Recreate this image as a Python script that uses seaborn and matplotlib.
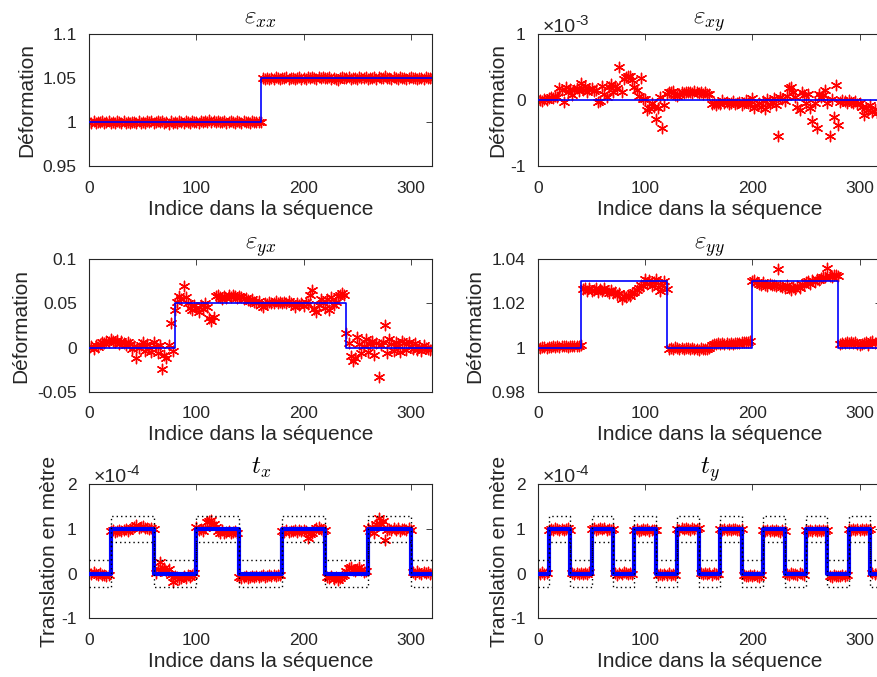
import numpy as np
import seaborn as sns
import matplotlib.pyplot as plt

# sample index of the red estimates (one point every 2 indices)
indices = np.arange(0, 321, 2)

# estimated deformations (red asterisks)
exx = [1.0000, 0.9991, 1.0008, 0.9993, 1.0004, 0.9996, 1.0010, 0.9990, 1.0002, 1.0009,
       0.9994, 1.0006, 0.9989, 1.0007, 1.0001, 0.9992, 1.0008, 0.9995, 1.0004, 0.9990,
       1.0006, 1.0000, 0.9992, 1.0011, 0.9994, 1.0004, 0.9990, 1.0007, 1.0001, 1.0009,
       0.9993, 1.0004, 1.0013, 0.9996, 1.0007, 0.9988, 1.0003, 0.9982, 1.0009, 0.9993,
       1.0004, 0.9991, 1.0011, 1.0000, 0.9994, 1.0014, 1.0003, 0.9995, 1.0009, 1.0001,
       1.0006, 0.9994, 1.0013, 1.0003, 1.0009, 0.9997, 1.0020, 1.0005, 1.0015, 1.0001,
       1.0009, 0.9996, 1.0006, 1.0013, 0.9993, 1.0003, 1.0011, 1.0000, 0.9991, 1.0008,
       1.0003, 0.9995, 1.0011, 1.0000, 1.0006, 0.9993, 1.0009, 1.0003, 0.9996, 1.0006,
       1.0001, 1.0506, 1.0491, 1.0508, 1.0496, 1.0503, 1.0489, 1.0511, 1.0500, 1.0494,
       1.0506, 1.0497, 1.0513, 1.0492, 1.0504, 1.0508, 1.0494, 1.0500, 1.0511, 1.0496,
       1.0504, 1.0491, 1.0509, 1.0500, 1.0516, 1.0506, 1.0494, 1.0511, 1.0503, 1.0519,
       1.0506, 1.0497, 1.0509, 1.0488, 1.0503, 1.0494, 1.0485, 1.0500, 1.0509, 1.0497,
       1.0503, 1.0513, 1.0494, 1.0506, 1.0500, 1.0488, 1.0509, 1.0497, 1.0503, 1.0511,
       1.0494, 1.0506, 1.0500, 1.0513, 1.0491, 1.0509, 1.0503, 1.0497, 1.0520, 1.0506,
       1.0500, 1.0488, 1.0509, 1.0503, 1.0494, 1.0511, 1.0500, 1.0506, 1.0491, 1.0503,
       1.0509, 1.0497, 1.0503, 1.0494, 1.0506, 1.0500, 1.0491, 1.0509, 1.0503, 1.0497,
       1.0500]

# exy in units of 1e-3
exy = [0.00, 0.01, -0.01, 0.02, 0.00, 0.04, 0.05, 0.03, 0.06, 0.05,
       0.18, 0.15, -0.03, 0.20, 0.12, 0.17, 0.08, 0.16, 0.19, 0.14,
       0.26, 0.15, 0.22, 0.12, 0.17, 0.18, 0.14, 0.16, -0.03, -0.02,
       0.22, 0.10, 0.05, 0.20, 0.25, 0.12, 0.22, 0.18, 0.50, 0.12,
       0.32, 0.35, 0.36, 0.37, 0.30, 0.20, 0.15, 0.06, 0.33, 0.02,
       0.02, -0.15, -0.12, -0.05, -0.10, -0.28, -0.12, 0.05, -0.42, -0.08,
       0.10, 0.13, 0.12, 0.14, 0.08, 0.07, 0.10, 0.12, 0.11, 0.13,
       0.12, 0.13, 0.11, 0.14, 0.12, 0.11, 0.13, 0.10, 0.12, 0.09,
       0.10, -0.06, -0.05, -0.07, -0.04, -0.06, 0.01, -0.05, -0.03, -0.06,
       -0.04, -0.02, -0.06, -0.05, -0.03, -0.07, -0.05, 0.01, -0.04, -0.06,
       0.03, -0.12, -0.08, -0.04, -0.10, -0.02, -0.13, 0.02, -0.06, -0.03,
       0.04, -0.08, -0.55, 0.05, 0.02, -0.02, 0.06, 0.18, 0.20, 0.12,
       0.05, -0.10, -0.15, 0.12, 0.08, -0.05, 0.10, -0.12, -0.32, -0.05,
       -0.42, 0.10, 0.05, 0.08, 0.15, -0.05, -0.55, 0.02, -0.25, 0.23,
       -0.38, -0.03, 0.01, -0.02, -0.04, 0.00, -0.03, -0.05, -0.02, -0.06,
       -0.05, -0.10, -0.22, -0.12, -0.15, -0.08, -0.18, -0.14, -0.20, -0.17,
       -0.18]

eyx = [0.000, 0.002, -0.002, 0.003, 0.001, 0.004, 0.006, 0.005, 0.007, 0.006,
       0.010, 0.008, 0.006, 0.009, 0.004, 0.007, 0.005, 0.003, 0.006, 0.004,
       -0.002, 0.002, -0.012, 0.000, 0.003, 0.006, -0.004, 0.004, 0.000, -0.005,
       0.006, 0.002, -0.006, 0.003, -0.024, -0.008, -0.012, 0.003, 0.028, -0.004,
       0.042, 0.052, 0.058, 0.055, 0.070, 0.057, 0.050, 0.045, 0.042, 0.048,
       0.045, 0.040, 0.048, 0.044, 0.050, 0.046, 0.033, 0.030, 0.035, 0.058,
       0.060, 0.057, 0.055, 0.058, 0.056, 0.059, 0.057, 0.060, 0.058, 0.056,
       0.058, 0.057, 0.055, 0.056, 0.054, 0.053, 0.055, 0.052, 0.050, 0.053,
       0.048, 0.046, 0.050, 0.049, 0.052, 0.051, 0.050, 0.053, 0.051, 0.052,
       0.050, 0.052, 0.051, 0.053, 0.050, 0.049, 0.046, 0.051, 0.048, 0.050,
       0.047, 0.052, 0.049, 0.060, 0.065, 0.044, 0.040, 0.048, 0.055, 0.050,
       0.045, 0.055, 0.043, 0.057, 0.048, 0.052, 0.058, 0.060, 0.062, 0.059,
       0.017, 0.005, -0.010, -0.015, -0.012, 0.012, 0.004, -0.006, 0.002, 0.010,
       -0.005, 0.004, 0.008, -0.008, 0.005, -0.033, 0.003, 0.006, 0.026, -0.006,
       0.010, 0.004, -0.004, 0.006, 0.002, -0.005, 0.008, 0.005, -0.003, 0.006,
       0.002, -0.002, 0.005, -0.003, 0.001, -0.004, 0.003, 0.000, -0.002, -0.003,
       -0.002]

eyy = [1.0000, 0.9998, 1.0003, 1.0001, 0.9999, 1.0004, 1.0002, 1.0005, 1.0003, 1.0006,
       1.0004, 1.0008, 1.0005, 1.0007, 1.0004, 1.0009, 1.0006, 1.0005, 1.0008, 1.0006,
       1.0010, 1.0265, 1.0272, 1.0258, 1.0268, 1.0255, 1.0262, 1.0270, 1.0250, 1.0265,
       1.0258, 1.0270, 1.0255, 1.0248, 1.0262, 1.0245, 1.0252, 1.0240, 1.0248, 1.0222,
       1.0235, 1.0228, 1.0240, 1.0232, 1.0245, 1.0252, 1.0262, 1.0270, 1.0282, 1.0278,
       1.0312, 1.0290, 1.0305, 1.0280, 1.0295, 1.0312, 1.0275, 1.0258, 1.0285, 1.0300,
       1.0265, 0.9995, 0.9998, 0.9992, 1.0002, 0.9996, 0.9994, 1.0000, 0.9993, 0.9997,
       0.9996, 0.9993, 0.9998, 0.9992, 0.9995, 0.9991, 0.9997, 0.9993, 0.9995, 0.9994,
       0.9996, 1.0012, 1.0018, 1.0014, 1.0020, 1.0016, 1.0019, 1.0015, 1.0021, 1.0017,
       1.0020, 1.0018, 1.0022, 1.0019, 1.0021, 1.0025, 1.0023, 1.0027, 1.0024, 1.0030,
       1.0300, 1.0305, 1.0295, 1.0290, 1.0282, 1.0295, 1.0285, 1.0280, 1.0287, 1.0282,
       1.0285, 1.0278, 1.0355, 1.0280, 1.0275, 1.0270, 1.0282, 1.0268, 1.0262, 1.0275,
       1.0265, 1.0280, 1.0270, 1.0290, 1.0285, 1.0295, 1.0300, 1.0290, 1.0305, 1.0298,
       1.0310, 1.0305, 1.0315, 1.0320, 1.0318, 1.0362, 1.0325, 1.0322, 1.0330, 1.0328,
       1.0325, 1.0018, 1.0022, 1.0020, 1.0025, 1.0019, 1.0023, 1.0021, 1.0024, 1.0018,
       1.0010, 1.0015, 1.0022, 1.0024, 1.0012, 1.0025, 1.0028, 1.0020, 1.0026, 1.0023,
       1.0025]

# translations in units of 1e-4 m
tx = [0.02, -0.01, 0.03, 0.00, -0.02, 0.01, -0.04, -0.02, -0.05, -0.03,
      0.95, 0.97, 0.94, 0.96, 0.98, 0.95, 0.97, 0.99, 0.96, 1.00,
      1.03, 1.05, 1.08, 1.02, 1.04, 1.06, 1.01, 1.03, 1.00, 1.02,
      1.00, 0.02, 0.10, 0.25, 0.08, 0.12, 0.05, 0.10, -0.02, -0.18,
      -0.05, -0.08, -0.12, -0.10, -0.06, -0.09, -0.04, -0.07, -0.02, 0.02,
      1.05, 0.98, 1.00, 0.95, 1.02, 1.15, 1.18, 1.20, 1.12, 1.05,
      0.95, 0.92, 0.97, 0.90, 0.94, 0.96, 0.91, 0.93, 0.95, 0.92,
      -0.07, -0.10, -0.08, -0.06, -0.09, -0.07, -0.05, -0.08, -0.06, -0.07,
      -0.05, -0.04, -0.07, -0.05, -0.03, -0.06, -0.04, -0.05, -0.02, -0.04,
      0.95, 0.93, 0.97, 0.94, 0.96, 0.95, 0.98, 0.94, 0.97, 0.96,
      0.98, 0.95, 0.80, 0.88, 0.92, 0.97, 1.02, 1.05, 1.00, 0.95,
      0.98, -0.08, -0.10, -0.05, -0.12, -0.08, -0.14, -0.10, -0.06, -0.03,
      0.05, 0.12, 0.15, 0.08, 0.05, 0.10, 0.14, 0.09, 0.04, 0.06,
      1.02, 0.95, 1.05, 0.90, 1.10, 1.25, 1.12, 1.18, 0.75, 0.98,
      1.00, 0.97, 1.02, 0.98, 1.01, 0.96, 0.99, 1.00, 0.97, 1.01,
      0.98, 0.03, 0.00, 0.05, 0.02, -0.01, 0.04, 0.01, 0.03, 0.00,
      0.02]

ty = [0.02, -0.01, 0.03, 0.00, 0.01, 0.98, 1.00, 0.97, 1.01, 0.99,
      0.98, 1.00, 0.97, 0.99, 1.01, 0.98, 0.02, -0.01, 0.01, 0.00,
      0.02, -0.01, 0.01, 0.00, 0.03, 0.99, 1.01, 0.98, 1.00, 1.02,
      0.99, 1.01, 0.98, 1.00, 0.97, 0.99, 0.01, -0.02, 0.02, 0.00,
      0.03, 0.01, -0.01, 0.02, 0.00, 0.97, 0.99, 0.96, 0.98, 1.00,
      0.97, 0.99, 0.96, 0.98, 0.97, 0.98, -0.02, 0.00, -0.03, -0.01,
      -0.02, 0.01, -0.03, -0.01, -0.02, 1.00, 0.98, 1.01, 0.99, 1.02,
      1.00, 0.98, 1.01, 0.99, 1.00, 1.01, 0.02, -0.01, 0.01, 0.00,
      0.02, -0.02, 0.01, -0.01, 0.00, 0.99, 0.97, 1.00, 0.98, 0.99,
      0.97, 0.99, 1.00, 0.98, 0.97, 0.99, -0.04, -0.06, -0.05, -0.03,
      -0.06, -0.04, -0.05, -0.07, -0.03, 0.97, 0.95, 0.98, 0.96, 0.97,
      0.95, 0.97, 0.96, 0.94, 0.97, 0.96, 0.00, -0.02, 0.01, -0.01,
      0.00, -0.02, 0.01, -0.01, -0.02, 0.97, 0.95, 0.98, 0.96, 0.97,
      0.95, 0.97, 0.96, 0.98, 0.95, 0.97, -0.05, -0.07, -0.04, -0.06,
      -0.05, -0.06, -0.03, -0.05, -0.04, 0.99, 0.97, 1.00, 0.98, 0.99,
      0.97, 0.99, 0.98, 1.00, 0.97, 0.99, 0.01, -0.01, 0.02, 0.00,
      0.01]

# true values (blue step functions): segment edges and levels
exx_edges, exx_levels = [0, 160, 320], [1.0, 1.05]
exy_edges, exy_levels = [0, 320], [0.0]
eyx_edges, eyx_levels = [0, 80, 240, 320], [0.0, 0.05, 0.0]
eyy_edges, eyy_levels = [0, 40, 120, 200, 280, 320], [1.0, 1.03, 1.0, 1.03, 1.0]
tx_edges = [0, 20, 60, 100, 140, 180, 220, 260, 300, 320]
tx_levels = [0, 1, 0, 1, 0, 1, 0, 1, 0]
ty_edges = [0, 10, 30, 50, 70, 90, 110, 130, 150, 170, 190, 210, 230, 250,
            270, 290, 310, 320]
ty_levels = [0, 1, 0, 1, 0, 1, 0, 1, 0, 1, 0, 1, 0, 1, 0, 1, 0]
t_margin = 0.3  # dotted tolerance band (1e-4 m)

titles = [r'$\varepsilon_{xx}$', r'$\varepsilon_{xy}$', r'$\varepsilon_{yx}$',
          r'$\varepsilon_{yy}$', r'$t_x$', r'$t_y$']
xticks = [0, 100, 200, 300]
yticks = [[0.95, 1, 1.05, 1.1], [-1, 0, 1], [-0.05, 0, 0.05, 0.1],
          [0.98, 1, 1.02, 1.04], [-1, 0, 1, 2], [-1, 0, 1, 2]]
yticklabels = [['0.95', '1', '1.05', '1.1'], ['-1', '0', '1'],
               ['-0.05', '0', '0.05', '0.1'], ['0.98', '1', '1.02', '1.04'],
               ['-1', '0', '1', '2'], ['-1', '0', '1', '2']]
multipliers = [None, '-3', None, None, '-4', '-4']

sns.set_style('white')
plt.rcParams['font.family'] = ['Liberation Sans', 'DejaVu Sans']
plt.rcParams['mathtext.fontset'] = 'cm'
ink = '#262626'

fig = plt.figure(figsize=(8.77, 6.77), dpi=100)
lefts = [0.1018, 0.6135]
bottoms = [0.7548, 0.4214, 0.0867]
heights = [0.1945, 0.1956, 0.198]
width = 0.391
ylabel_pads = [5, 2, 5, 5, 2, 1]


def steps(edges, levels, offset=0.0):
    y = [v + offset for v in levels]
    return edges, y + [y[-1]]


panels = [(exx, exx_edges, exx_levels), (exy, exy_edges, exy_levels),
          (eyx, eyx_edges, eyx_levels), (eyy, eyy_edges, eyy_levels),
          (tx, tx_edges, tx_levels), (ty, ty_edges, ty_levels)]

for i, (vals, edges, levels) in enumerate(panels):
    row, col = divmod(i, 2)
    ax = fig.add_axes([lefts[col], bottoms[row], width, heights[row]])
    sns.scatterplot(x=indices, y=vals, ax=ax, marker=(6, 2, 0), s=56,
                    color='red', linewidth=1.0, zorder=2)
    sx, sy = steps(edges, levels)
    lw = 3.0 if row == 2 else 1.2
    sns.lineplot(x=sx, y=sy, ax=ax, color='blue', lw=lw, drawstyle='steps-post',
                 estimator=None, sort=False, zorder=3)
    if row == 2:
        for off in (t_margin, -t_margin):
            bx, by = steps(edges, levels, off)
            sns.lineplot(x=bx, y=by, ax=ax, color='black', lw=1.0,
                         linestyle=(0, (1, 2.2)), drawstyle='steps-post',
                         estimator=None, sort=False, zorder=4)
    ax.set_xlim(0, 320)
    ax.set_ylim(yticks[i][0], yticks[i][-1])
    ax.set_xticks(xticks)
    ax.set_xticklabels([str(t) for t in xticks])
    ax.set_yticks(yticks[i])
    ax.set_yticklabels(yticklabels[i])
    ax.tick_params(axis='both', which='both', direction='in', top=True,
                   right=True, length=4, width=0.6, color=ink, labelsize=12.5,
                   labelcolor=ink)
    ax.tick_params(axis='x', pad=10.5)
    ax.tick_params(axis='y', pad=9)
    for sp in ax.spines.values():
        sp.set_color(ink)
        sp.set_linewidth(0.8)
    ax.set_title(titles[i], fontsize=18, color='black', pad=7.5)
    ax.set_xlabel('Indice dans la séquence', fontsize=15, color=ink, labelpad=3)
    ax.set_ylabel('Translation en mètre' if row == 2 else 'Déformation',
                  fontsize=15, color=ink, labelpad=ylabel_pads[i])
    if multipliers[i]:
        ax.annotate('×10', xy=(0, 1), xycoords='axes fraction',
                    xytext=(3, 1.5), textcoords='offset points', fontsize=14,
                    color=ink, va='baseline', ha='left')
        ax.annotate(multipliers[i], xy=(0, 1), xycoords='axes fraction',
                    xytext=(27, 7), textcoords='offset points', fontsize=11,
                    color=ink, va='baseline', ha='left')

fig.savefig('out.png', dpi=100)
